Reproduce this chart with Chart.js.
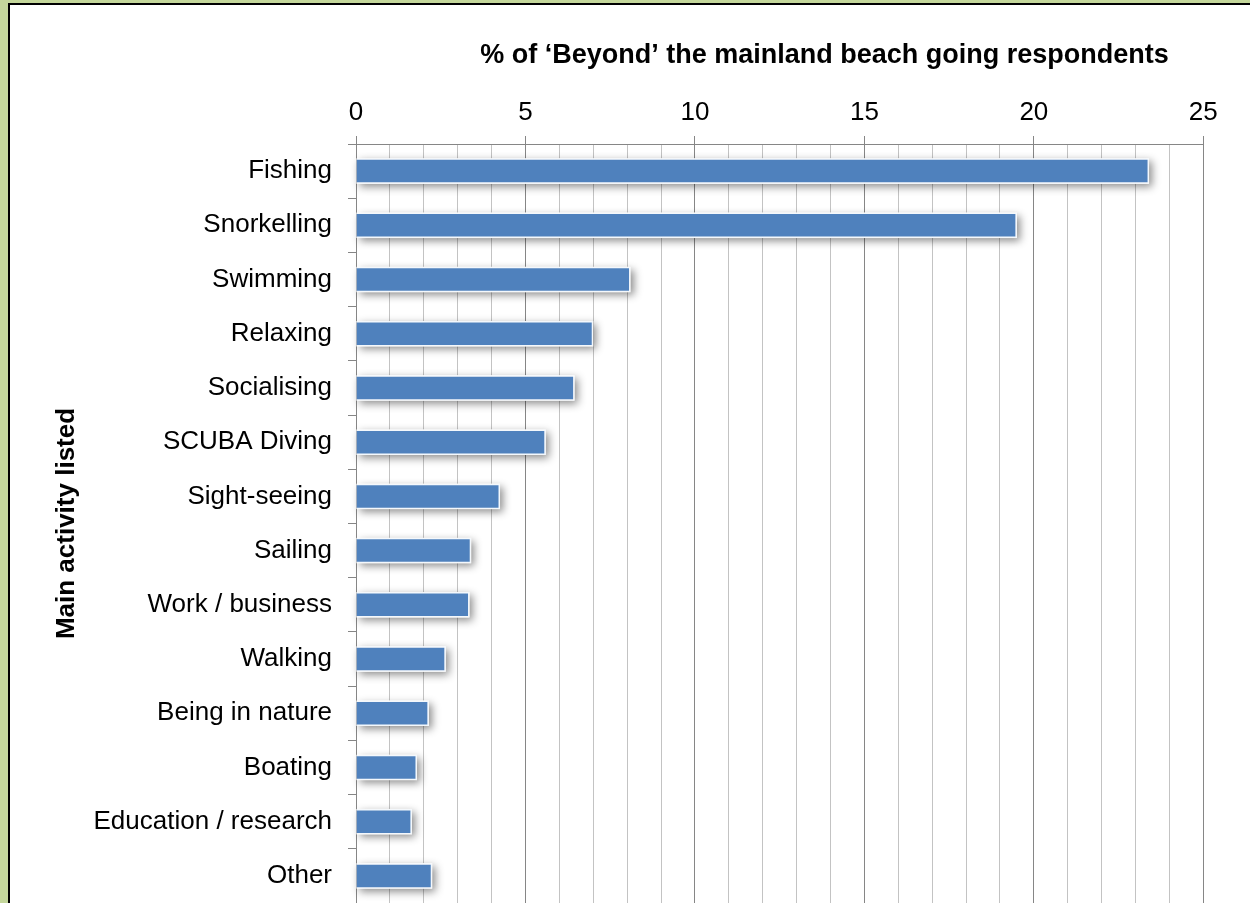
<!DOCTYPE html>
<html>
<head>
<meta charset="utf-8">
<script src="https://cdn.jsdelivr.net/npm/chart.js@4"></script>
<style>
  html, body { margin: 0; padding: 0; width: 1250px; height: 903px; overflow: hidden; background: #c4d79b; }
  .frame { position: absolute; left: 8px; top: 3px; width: 1300px; height: 1000px; background: #fff;
           border-left: 2px solid #000; border-top: 2px solid #000; }
  #wrap { position: absolute; left: 0; top: 0; width: 1250px; height: 903px; }
</style>
</head>
<body>
<div class="frame"></div>
<div id="wrap"><canvas id="myChart"></canvas></div>
<script>
// actividades principales y porcentaje de encuestados
const activities = ['Fishing', 'Snorkelling', 'Swimming', 'Relaxing', 'Socialising', 'SCUBA Diving',
  'Sight-seeing', 'Sailing', 'Work / business', 'Walking', 'Being in nature', 'Boating',
  'Education / research', 'Other'];
const percentages = [23.4, 19.5, 8.1, 7.0, 6.45, 5.6, 4.25, 3.4, 3.35, 2.65, 2.15, 1.8, 1.65, 2.25];

const xTitle = '% of \u2018Beyond\u2019 the mainland beach going respondents';
const yTitle = 'Main activity listed';

Chart.defaults.font.family = '"Liberation Sans", Arial, sans-serif';
Chart.defaults.color = '#000';

const axisGrey = '#868686';
const minorGrey = '#c3c3c3';

// sombra detras de cada barra (el borde de la barra recorta la sombra si se pone en ctx)
const barShadow = {
  id: 'barShadow',
  beforeDatasetsDraw(chart) {
    const ctx = chart.ctx;
    const meta = chart.getDatasetMeta(0);
    ctx.save();
    ctx.shadowColor = 'rgba(0,0,0,0.45)';
    ctx.shadowBlur = 8;
    ctx.shadowOffsetX = 3;
    ctx.shadowOffsetY = 3;
    ctx.fillStyle = '#fff';
    meta.data.forEach(bar => {
      const p = bar.getProps(['x', 'y', 'base', 'height'], true);
      ctx.fillRect(p.base, p.y - p.height / 2, p.x - p.base, p.height);
    });
    ctx.restore();
  }
};

// titulo del eje de valores
const topTitle = {
  id: 'topTitle',
  afterDraw(chart) {
    const ctx = chart.ctx;
    ctx.save();
    ctx.font = 'bold 27px "Liberation Sans", Arial, sans-serif';
    ctx.fillStyle = '#000';
    ctx.textAlign = 'center';
    ctx.textBaseline = 'alphabetic';
    ctx.fillText(xTitle, 824.5, 63);
    ctx.restore();
  }
};

const ctx = document.getElementById('myChart');

const myChart = new Chart(ctx, {
  type: 'bar',
  data: {
    labels: activities,
    datasets: [{
      data: percentages,
      backgroundColor: '#4f81bd',
      borderColor: '#f4f8fc',
      borderWidth: 1.5,
      barPercentage: 0.47,
      categoryPercentage: 1
    }]
  },
  options: {
    indexAxis: 'y',
    responsive: true,
    maintainAspectRatio: false,
    animation: false,
    layout: { padding: { left: 47, top: 80, right: 46.7, bottom: 0 } },
    plugins: {
      legend: { display: false },
      title: { display: false },
      tooltip: { enabled: false }
    },
    scales: {
      x: {
        position: 'top',
        min: 0,
        max: 25,
        afterFit(scale) { scale.height = 64; },
        border: { display: true, color: axisGrey, width: 1 },
        grid: {
          color: c => (c.tick && c.tick.value % 5 === 0) ? axisGrey : minorGrey,
          tickColor: c => (c.tick && c.tick.value % 5 === 0) ? axisGrey : 'rgba(0,0,0,0)',
          tickLength: 8,
          lineWidth: 1
        },
        ticks: {
          stepSize: 1,
          autoSkip: false,
          maxRotation: 0,
          padding: 8,
          font: { size: 26 },
          callback: v => (v % 5 === 0 ? v : '')
        }
      },
      y: {
        afterFit(scale) {
          scale.width = 309;
          // el area de barras llega hasta el borde inferior
          scale.paddingTop = 0;
          scale.paddingBottom = 0;
        },
        border: { display: true, color: axisGrey, width: 1 },
        grid: {
          drawOnChartArea: false,
          drawTicks: true,
          tickLength: 8,
          color: axisGrey
        },
        ticks: {
          padding: 16,
          font: { size: 26 }
        },
        title: {
          display: true,
          text: yTitle,
          font: { size: 26, weight: 'bold' }
        }
      }
    }
  },
  plugins: [barShadow, topTitle]
});
</script>
</body>
</html>
